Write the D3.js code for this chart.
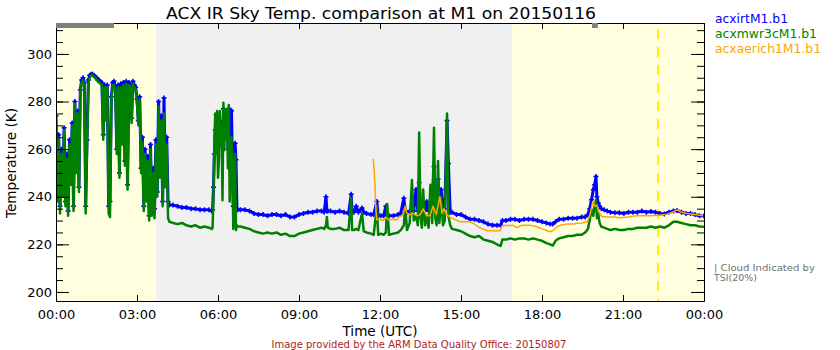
<!DOCTYPE html>
<html>
<head>
<meta charset="utf-8">
<script src="https://cdn.jsdelivr.net/npm/d3@7"></script>
<style>
  body { margin: 0; background: #ffffff; }
  svg { display: block; }
  text { font-family: "DejaVu Sans", "Liberation Sans", sans-serif; }
</style>
</head>
<body>
<svg id="chart" width="840" height="350"></svg>
<script>
// ---- data: [minutes after 00:00 UTC, brightness temperature K] ----
const irtSamples = [
  [0,274],[3,240],[6,266],[9,236],[12,260],[15,243],[18,269],[21,238],[24,258],[27,234],
  [30,264],[33,247],[36,271],[39,236],[42,280],[45,252],[48,276],[51,244],[54,285],[57,289],
  [60,290],[63,288],[66,236],[69,264],[72,289],[75,291],[78,291.5],[81,291.5],[84,291],[87,290.5],
  [90,290],[93,289],[96,289],[99,288],[102,288],[105,266],[108,287],[111,274],[114,287],[117,236],
  [120,238],[123,282],[126,288],[129,288.5],[132,286],[135,260],[138,287],[141,250],[144,287.5],[147,263],
  [150,288],[153,255],[156,288.5],[159,245],[162,288],[165,287],[168,273],[171,288.5],[174,287],[177,286],
  [180,281],[183,272],[186,282],[189,252],[192,265],[195,236],[198,260],[201,240],[204,257],[207,232],
  [210,262],[213,236],[216,252],[219,235],[222,264],[225,242],[228,280],[231,251],[234,274],[237,238],
  [240,281.5],[243,246],[246,265],[249,238],[252,236.5],
  [260,236.5],[270,236],[280,235.5],[290,235.5],[300,235],[310,235],[320,234.5],[330,234.5],[340,234.5],
  [346,234],[348,234.5],[350,244],[352,258],[354,268],[356,274.5],[358,273],[360,262],[362,266],[364,272],
  [366,262],[368,270],[370,262],[372,277],[374,266],[376,274],[378,270],[380,276],[382,260],[384,275],
  [386,264],[388,276.5],[390,276],[392,254],[394,236],[396,242],[398,262.5],[400,255.5],[402,235],[404,234.5],
  [410,234.5],[420,234.5],[430,234],[440,233],[450,232.5],[460,232.5],[470,232],[480,232.5],[490,232.5],[500,232],
  [510,232.5],[520,231.5],[530,231.5],[540,232.5],[550,233],[560,233.5],[570,233.5],[580,234],[590,234],[596,233.5],
  [600,240],[602,234],[604,234],[610,234],[620,233.5],[630,234],[640,233.5],[650,233],[656,241],[658,233.5],
  [662,233.5],[667,236],[672,233.5],[680,235.3],[684,233.5],[690,233],[700,232.5],[706,232.5],[713,238],[716,232],
  [722,232],[728,232],[733,236],[736,232.5],[740,232],[750,232],[760,232.5],[766,233],[773,239.4],[776,233.5],
  [780,233.5],[786,234],[791,236],[795,234],[800,243],[804,234],[807,246],[810,236],[813,234.5],[816,237],
  [820,234],[824,238],[828,234],[832,235],[836,237],[840,252.7],[843,236],[846,235],[849,247.5],[852,236],
  [856,243],[860,234],[864,235],[869,272],[872,254],[876,233.5],
  [880,233.5],[890,232.5],[900,232.5],[910,231.5],[920,230.5],[930,230.5],[940,230],[950,229.5],[960,228.5],[970,228],
  [980,228],[988,228],[992,230],[1000,230],[1010,230.5],[1020,230.5],[1030,230],[1040,230.5],[1050,230.5],[1060,230.5],
  [1070,230],[1080,229.5],[1090,229],[1098,228.5],[1104,228.5],[1110,229.5],[1118,230.5],[1128,230.5],[1138,231],[1148,231],
  [1158,231],[1168,231.5],[1176,231.5],[1182,232.5],[1186,235],[1190,238.7],[1194,242.9],[1197,245],[1200,248.5],[1202,240],
  [1205,237.4],[1208,236],[1212,235],[1218,234.5],[1225,234],[1232,233.5],[1242,233.3],[1252,233.3],[1262,233],[1272,233.5],
  [1282,233.5],[1292,233.5],[1302,234],[1312,233.5],[1322,233.8],[1332,233.5],[1342,233],[1352,232.8],[1362,233.5],[1372,234],
  [1380,234.2],[1390,233.5],[1400,233],[1410,233],[1420,232.5],[1430,232],[1440,231.9]
];

const mwrSamples = [
  [0,262],[3,238],[6,265],[9,233],[12,258],[15,240],[18,268],[21,236],[24,256],[27,232],
  [30,262],[33,245],[36,270],[39,234],[42,279],[45,250],[48,275],[51,242],[54,284],[57,288],
  [60,289],[63,287],[66,233],[69,262],[72,288],[75,290],[78,291],[81,291],[84,290.5],[87,290],
  [90,289],[93,288.5],[96,288],[99,287.5],[102,287],[105,264],[108,286],[111,272],[114,286],[117,233],
  [120,231.5],[123,280],[126,287],[129,287],[132,285],[135,258],[138,286],[141,248],[144,286],[147,262],
  [150,287],[153,253],[156,287.5],[159,243],[162,287],[165,286],[168,271],[171,287.5],[174,286],[177,285],
  [180,279],[183,270],[186,281],[189,250],[192,263],[195,234],[198,258],[201,238],[204,255],[207,230],
  [210,260],[213,232],[216,250],[219,231],[222,262],[225,240],[228,278],[231,248],[234,272],[237,236],
  [240,275],[243,244],[246,262],[249,231],[252,229.5],
  [260,229],[270,228.5],[280,229],[290,228],[300,227.5],[310,228],[320,227],[330,227.5],[340,227],
  [346,226.5],[348,227],[350,241],[352,264],[354,275],[356,258],[358,276],[360,248],[362,255],[364,276],
  [366,262],[368,270],[370,238.5],[372,279.5],[374,259.5],[376,276.5],[378,264],[380,277],[382,252],[384,278.5],
  [386,238],[388,250],[390,265],[392,254],[394,226.5],[396,231],[398,258],[400,226],[402,228],[404,227.5],
  [410,227.5],[420,227],[430,226.5],[440,225.5],[450,225],[460,224.5],[470,225],[480,224.5],[490,225],[500,224],
  [510,224.5],[520,223.5],[530,223.5],[540,224.5],[550,225],[560,225.5],[570,226],[580,226.5],[590,227],[596,226.5],
  [600,228],[602,231.5],[604,227],[610,226.5],[620,226.5],[630,227],[640,226],[650,226],[656,239.5],[658,226],
  [662,226],[667,226.5],[672,226],[680,233],[684,225.5],[690,225],[700,224.5],[706,224],[713,236],[716,224],
  [722,224.5],[728,224],[733,225],[736,237],[740,224],[750,224.5],[760,225],[766,226],[773,228],[776,236],
  [780,226],[786,229],[791,247],[795,230],[800,232],[804,228],[807,267],[810,231],[813,227],[816,243],
  [820,228],[824,232],[828,227],[832,245],[836,229],[840,269],[843,231],[846,228],[849,255],[852,229],
  [856,240],[860,228],[864,230],[869,275],[872,232],[876,228],
  [880,226.5],[890,226],[900,225.5],[910,224.5],[920,223.5],[930,223],[940,223.5],[950,222],[960,221.5],[970,221],
  [980,220],[988,219.3],[992,222],[1000,222],[1010,222.5],[1020,222],[1030,222.5],[1040,222.5],[1050,222],[1060,222.5],
  [1070,222],[1080,221.5],[1090,220.5],[1098,220],[1104,219.5],[1110,221.5],[1118,222.5],[1128,223],[1138,223.5],[1148,223.5],
  [1158,224],[1168,224],[1176,225],[1182,226.5],[1186,230],[1190,234.5],[1194,232],[1197,236],[1200,238.7],[1202,231],
  [1205,233],[1208,229],[1212,227.4],[1218,227],[1225,226.5],[1232,226],[1242,226.5],[1252,226],[1262,226],[1272,226.5],
  [1282,226.5],[1292,227],[1302,227],[1312,227],[1322,227.5],[1332,227],[1342,227.5],[1352,227],[1362,228],[1372,229.5],
  [1380,229.5],[1390,229],[1400,228.5],[1410,228],[1420,228],[1430,227.5],[1440,227.4]
];

const aeriSamples = [
  [705,255.9],[707,251.3],[709,244],[711,234],[713,230.3],[720,230.5],[727,230],[733,231.4],[739,230.3],[748,230.5],
  [757,230.3],[762,231.5],[768,232],[772,232.8],[776,235.9],[780,233],[786,232.4],[794,233],[802,232],[809,232.4],
  [816,234.9],[824,232],[831,232],[838,236],[845,232.5],[853,240],[858,233],[862,235],[868,232.5],[876,231.4],
  [886,230.5],[898,229.5],[910,229.5],[920,229.5],[930,228.5],[938,227.4],[948,226.5],[958,225.7],[970,225.7],[987,225.7],
  [991,227.7],[1000,228],[1010,227.9],[1016,228],[1024,227],[1035,228],[1053,228],[1068,227.5],[1080,226.5],[1090,225.8],
  [1098,225.3],[1106,226],[1114,227.5],[1120,228],[1135,228.5],[1150,228.5],[1158,228.9],[1170,229],[1180,229.5],[1186,232],
  [1193,238],[1198,236],[1202,236.5],[1208,233],[1213,231.7],[1225,231.5],[1240,231.5],[1253,231.2],[1270,231.5],[1290,232],
  [1320,232],[1340,232.2],[1358,232.7],[1370,233.5],[1380,234.5],[1390,233.5],[1402,233],[1420,232.5],[1438,232]
];

// sun up / sun down periods (minutes)
const daylightSpans = [[0, 222], [1013, 1440]];
const darkSpans = [[222, 1013]];
// periods without TSI imagery (minutes)
const tsiGapSpans = [[0, 129], [1191, 1204]];
// TSI cloud indication (minutes)
const cloudFlagMinutes = [1338];

const timeTicks = [0, 180, 360, 540, 720, 900, 1080, 1260, 1440];
const timeTickLabels = ["00:00", "03:00", "06:00", "09:00", "12:00", "15:00", "18:00", "21:00", "00:00"];
const tempTicks = [200, 220, 240, 260, 280, 300];
const tempMinorTicks = d3.range(200, 311, 5);

const seriesNames = ["acxirtM1.b1", "acxmwr3cM1.b1", "acxaerich1M1.b1"];

// ---- layout ----
const svg = d3.select("#chart");
const plot = { left: 56, right: 704, top: 23, bottom: 301 };
const x = d3.scaleLinear().domain([0, 1440]).range([plot.left, plot.right]);
const y = d3.scaleLinear().domain([196.2, 313]).range([plot.bottom, plot.top]);

svg.append("defs").append("clipPath").attr("id", "plotClip")
  .append("rect")
  .attr("x", plot.left).attr("y", plot.top)
  .attr("width", plot.right - plot.left).attr("height", plot.bottom - plot.top);

// background shading
svg.append("g").selectAll("rect").data(daylightSpans).join("rect")
  .attr("x", d => x(d[0])).attr("width", d => x(d[1]) - x(d[0]))
  .attr("y", plot.top).attr("height", plot.bottom - plot.top)
  .attr("fill", "#ffffe0");
svg.append("g").selectAll("rect").data(darkSpans).join("rect")
  .attr("x", d => x(d[0])).attr("width", d => x(d[1]) - x(d[0]))
  .attr("y", plot.top).attr("height", plot.bottom - plot.top)
  .attr("fill", "#f0f0f0");

// cloud flag dashed line
svg.append("g").selectAll("line").data(cloudFlagMinutes).join("line")
  .attr("x1", d => x(d)).attr("x2", d => x(d))
  .attr("y1", plot.top).attr("y2", plot.bottom)
  .attr("stroke", "#ffee00").attr("stroke-width", 2)
  .attr("stroke-dasharray", "10,8").attr("stroke-dashoffset", -6);

const data = svg.append("g").attr("clip-path", "url(#plotClip)");
const line = d3.line().x(d => x(d[0])).y(d => y(d[1]));

// IRT: line with plus markers
data.append("path").datum(irtSamples)
  .attr("d", line).attr("fill", "none")
  .attr("stroke", "#0000ff").attr("stroke-width", 3).attr("stroke-linejoin", "round");
data.append("g").selectAll("path").data(irtSamples).join("path")
  .attr("transform", d => `translate(${x(d[0])},${y(d[1])})`)
  .attr("d", "M-2.5,0H2.5M0,-2.5V2.5")
  .attr("stroke", "#0000ff").attr("stroke-width", 1.5);

// MWR
data.append("path").datum(mwrSamples)
  .attr("d", line).attr("fill", "none")
  .attr("stroke", "#008000").attr("stroke-width", 2.5).attr("stroke-linejoin", "round");

// AERI
data.append("path").datum(aeriSamples)
  .attr("d", line).attr("fill", "none")
  .attr("stroke", "#ffa500").attr("stroke-width", 1.5).attr("stroke-linejoin", "round");

// ---- axes ----
function styleAxis(g) {
  g.selectAll("path.domain").attr("stroke", "#000");
  g.selectAll(".tick line").attr("stroke", "#000");
  g.selectAll("text").attr("fill", "#000").attr("font-size", 13)
    .attr("font-family", "DejaVu Sans, sans-serif");
}

svg.append("g").attr("transform", `translate(0,${plot.bottom})`)
  .call(d3.axisBottom(x).tickValues(timeTicks).tickFormat((d, i) => timeTickLabels[i])
    .tickSizeInner(-6).tickSizeOuter(0).tickPadding(9))
  .call(styleAxis);
svg.append("g").attr("transform", `translate(0,${plot.top})`)
  .call(d3.axisTop(x).tickValues(timeTicks).tickFormat("")
    .tickSizeInner(-6).tickSizeOuter(0))
  .call(styleAxis);

svg.append("g").attr("transform", `translate(${plot.left},0)`)
  .call(d3.axisLeft(y).tickValues(tempMinorTicks).tickFormat("")
    .tickSizeInner(-7).tickSizeOuter(0))
  .call(styleAxis);
svg.append("g").attr("transform", `translate(${plot.left},0)`)
  .call(d3.axisLeft(y).tickValues(tempTicks).tickFormat(d3.format("d"))
    .tickSizeInner(-13).tickSizeOuter(0).tickPadding(4))
  .call(styleAxis);

svg.append("g").attr("transform", `translate(${plot.right},0)`)
  .call(d3.axisRight(y).tickValues(tempMinorTicks).tickFormat("")
    .tickSizeInner(-7).tickSizeOuter(0))
  .call(styleAxis);
svg.append("g").attr("transform", `translate(${plot.right},0)`)
  .call(d3.axisRight(y).tickValues(tempTicks).tickFormat("")
    .tickSizeInner(-13).tickSizeOuter(0))
  .call(styleAxis);

// TSI gap bars along the top edge
svg.append("g").selectAll("rect").data(tsiGapSpans).join("rect")
  .attr("x", d => x(d[0])).attr("width", d => x(d[1]) - x(d[0]))
  .attr("y", plot.top).attr("height", 5)
  .attr("fill", "#808080");

// ---- text ----
svg.append("text").attr("x", 381).attr("y", 18.5)
  .attr("text-anchor", "middle").attr("font-size", 16)
  .attr("textLength", 430).attr("lengthAdjust", "spacingAndGlyphs")
  .text("ACX IR Sky Temp. comparison at M1 on 20150116");

svg.append("text").attr("transform", "translate(16,163) rotate(-90)")
  .attr("text-anchor", "middle").attr("font-size", 14)
  .attr("textLength", 110).attr("lengthAdjust", "spacingAndGlyphs")
  .text("Temperature (K)");

svg.append("text").attr("x", 380).attr("y", 336)
  .attr("text-anchor", "middle").attr("font-size", 14)
  .attr("textLength", 75).attr("lengthAdjust", "spacingAndGlyphs")
  .text("Time (UTC)");

svg.append("text").attr("x", 419).attr("y", 348)
  .attr("text-anchor", "middle").attr("font-size", 10.5).attr("fill", "#b22222")
  .attr("textLength", 295).attr("lengthAdjust", "spacingAndGlyphs")
  .text("Image provided by the ARM Data Quality Office: 20150807");

const legendColors = ["#0000ff", "#008000", "#ffa500"];
const legendWidths = [73, 102, 106];
svg.append("g").selectAll("text").data(seriesNames).join("text")
  .attr("x", 715).attr("y", (d, i) => 23.3 + i * 15)
  .attr("font-size", 13).attr("fill", (d, i) => legendColors[i])
  .attr("textLength", (d, i) => legendWidths[i]).attr("lengthAdjust", "spacingAndGlyphs")
  .text(d => d);

svg.append("text").attr("x", 714).attr("y", 270.5)
  .attr("font-size", 9).attr("fill", "#707070")
  .attr("textLength", 101).attr("lengthAdjust", "spacingAndGlyphs")
  .text("| Cloud Indicated by");
svg.append("text").attr("x", 714).attr("y", 281)
  .attr("font-size", 9).attr("fill", "#707070")
  .attr("textLength", 43).attr("lengthAdjust", "spacingAndGlyphs")
  .text("TSI(20%)");
</script>
</body>
</html>
